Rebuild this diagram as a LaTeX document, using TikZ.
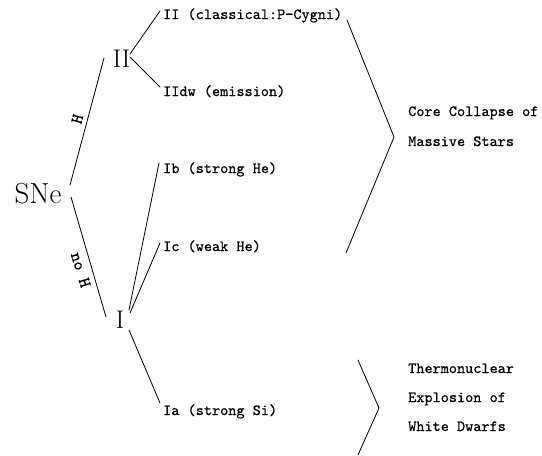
\documentclass[tikz,border=0pt]{standalone}
\usepackage{fontspec}
\newfontfamily\lblfont{lmmono10-regular.otf}[FakeBold=0.6]
\begin{document}
\begin{tikzpicture}[x=1pt,y=-1pt,
  conn/.style={line width=0.8pt,line cap=round},
  lbl/.style={font=\lblfont\fontsize{15.5}{18}\selectfont,inner sep=0pt,anchor=base west},
  big/.style={font=\fontsize{29}{32}\selectfont,inner sep=0pt,anchor=base},
  mid/.style={font=\fontsize{25.5}{30}\selectfont,inner sep=0pt,anchor=base},
  side/.style={font=\lblfont\fontsize{17}{20}\selectfont,inner sep=0pt}]
\useasboundingbox (0,0) rectangle (542,456);
% main nodes
\node[big] (sne) at (38,203) {SNe};
\node[mid] (two) at (121.5,67) {II};
\node[mid] (one) at (120,328) {I};
% leaf labels
\node[lbl] (iicl) at (163,19) {II (classical:P{\textminus}Cygni)};
\node[lbl] (iidw) at (163,96) {IIdw (emission)};
\node[lbl] (ib) at (163,173) {Ib (strong He)};
\node[lbl] (ic) at (163,251) {Ic (weak He)};
\node[lbl] (ia) at (163,415) {Ia (strong Si)};
% right labels
\node[lbl] (cc1) at (408,116) {Core Collapse of};
\node[lbl] (cc2) at (408,146) {Massive Stars};
\node[lbl] (tn1) at (408,373) {Thermonuclear};
\node[lbl] (tn2) at (408,402) {Explosion of};
\node[lbl] (tn3) at (408,431) {White Dwarfs};
% connector end points
\coordinate (s1) at (70,185);  \coordinate (t1) at (104,58);
\coordinate (s2) at (71,197);  \coordinate (t2) at (106,317);
\coordinate (a1) at (130,54);  \coordinate (b1) at (160,11);
\coordinate (a2) at (130,57);  \coordinate (b2) at (160,87);
\coordinate (a3) at (129,310); \coordinate (b3) at (159,163);
\coordinate (a4) at (130,313); \coordinate (b4) at (160,243);
\coordinate (a5) at (129,330); \coordinate (b5) at (160,403);
\coordinate (u1) at (347,20);  \coordinate (u2) at (394,137); \coordinate (u3) at (346,253);
\coordinate (l1) at (358,360); \coordinate (l2) at (379,408); \coordinate (l3) at (358,455);
% connectors
\draw[conn] (s1) -- node[side,pos=0.5,rotate=75,yshift=10pt] (hl) {H} (t1);
\draw[conn] (s2) -- node[side,pos=0.58,rotate=-73,yshift=-11pt] (nohl) {no H} (t2);
\draw[conn] (a1) -- (b1);
\draw[conn] (a2) -- (b2);
\draw[conn] (a3) -- (b3);
\draw[conn] (a4) -- (b4);
\draw[conn] (a5) -- (b5);
\draw[conn] (u1) -- (u2) -- (u3);
\draw[conn] (l1) -- (l2) -- (l3);
\end{tikzpicture}
\end{document}
